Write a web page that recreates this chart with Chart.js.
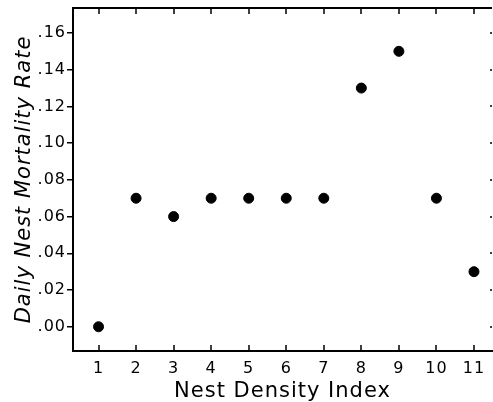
<!DOCTYPE html>
<html>
<head>
<meta charset="utf-8">
<script src="https://cdn.jsdelivr.net/npm/chart.js@4"></script>
<style>
  html, body { margin: 0; padding: 0; background: #fff; }
  #wrap { width: 493px; height: 402px; }
</style>
</head>
<body>
<div id="wrap"><canvas id="chart"></canvas></div>
<script>
// data
const nestDensity = [1, 2, 3, 4, 5, 6, 7, 8, 9, 10, 11];
const mortalityRate = [0.00, 0.07, 0.06, 0.07, 0.07, 0.07, 0.07, 0.13, 0.15, 0.07, 0.03];
const xTicks = [1, 2, 3, 4, 5, 6, 7, 8, 9, 10, 11];
const yTicks = [0, 0.02, 0.04, 0.06, 0.08, 0.10, 0.12, 0.14, 0.16];

const FONT = "'DejaVu Sans', sans-serif";

// the original lettering is wide, so space the glyphs out a bit
const spacingPlugin = {
    id: 'spacing',
    beforeLayout(chart) { chart.ctx.letterSpacing = '1px'; },
    beforeDraw(chart) { chart.ctx.letterSpacing = '1px'; }
};

// frame: top line plus inward tick marks on top / bottom / right
const framePlugin = {
    id: 'frame',
    afterDraw(chart) {
        const ctx = chart.ctx;
        const area = chart.chartArea;
        const xs = chart.scales.x;
        const ys = chart.scales.y;
        ctx.save();
        ctx.strokeStyle = '#000';
        ctx.lineWidth = 2;
        ctx.beginPath();
        ctx.moveTo(area.left, area.top);
        ctx.lineTo(area.right, area.top);
        ctx.stroke();

        ctx.lineWidth = 1.5;
        ctx.beginPath();
        xTicks.forEach(v => {
            const px = Math.round(xs.getPixelForValue(v));
            ctx.moveTo(px, area.top);
            ctx.lineTo(px, area.top + 6);
            ctx.moveTo(px, area.bottom);
            ctx.lineTo(px, area.bottom - 6);
        });
        yTicks.forEach(v => {
            const py = Math.round(ys.getPixelForValue(v));
            ctx.moveTo(area.right, py);
            ctx.lineTo(area.right - 2, py);
        });
        ctx.stroke();
        ctx.restore();
    }
};

new Chart(document.getElementById('chart').getContext('2d'), {
    type: 'scatter',
    data: {
        datasets: [{
            data: nestDensity.map((x, i) => ({ x: x, y: mortalityRate[i] })),
            backgroundColor: '#000',
            borderColor: '#000',
            pointRadius: 5,
            pointHoverRadius: 5
        }]
    },
    options: {
        responsive: true,
        maintainAspectRatio: false,
        animation: false,
        layout: { autoPadding: false, padding: { top: 8, right: 1, left: 0, bottom: 0 } },
        plugins: {
            legend: { display: false },
            tooltip: { enabled: false }
        },
        scales: {
            x: {
                type: 'linear',
                min: 0.32,
                max: 11.48,
                afterBuildTicks: scale => { scale.ticks = xTicks.map(v => ({ value: v })); },
                afterFit: scale => {
                    scale.height = 51;
                    scale.paddingLeft = 0;
                    scale.paddingRight = 0;
                },
                grid: { display: true, drawOnChartArea: false, drawTicks: false },
                border: { display: true, color: '#000', width: 2 },
                ticks: {
                    color: '#000',
                    padding: 8,
                    maxRotation: 0,
                    font: { family: FONT, size: 16 },
                    callback: v => String(v)
                },
                title: {
                    display: true,
                    text: 'Nest Density Index',
                    color: '#000',
                    padding: { top: 0, bottom: 0 },
                    font: { family: FONT, size: 21, lineHeight: 1 }
                }
            },
            y: {
                min: -0.0132,
                max: 0.1736,
                afterBuildTicks: scale => { scale.ticks = yTicks.map(v => ({ value: v })); },
                afterFit: scale => {
                    scale.width = 73;
                    scale.paddingTop = 0;
                    scale.paddingBottom = 0;
                },
                grid: { display: true, drawOnChartArea: false, drawTicks: true, tickLength: 6, color: '#000', lineWidth: 1.5 },
                border: { display: true, color: '#000', width: 2 },
                ticks: {
                    color: '#000',
                    padding: 1,
                    font: { family: FONT, size: 16 },
                    callback: v => v.toFixed(2).replace(/^0/, '')
                },
                title: {
                    display: true,
                    text: 'Daily Nest Mortality Rate',
                    color: '#000',
                    padding: { top: 12, bottom: 0 },
                    font: { family: FONT, size: 21, style: 'italic' }
                }
            }
        }
    },
    plugins: [spacingPlugin, framePlugin]
});
</script>
</body>
</html>
